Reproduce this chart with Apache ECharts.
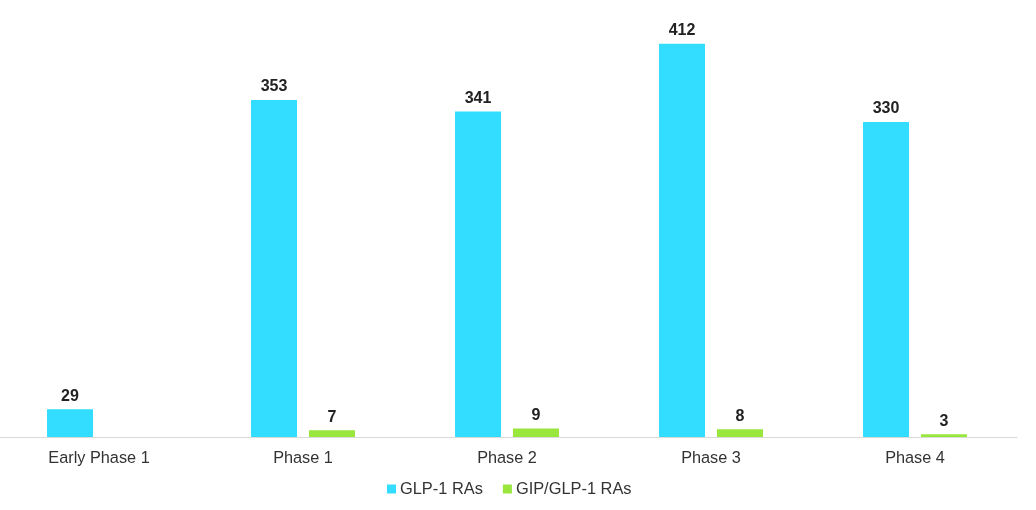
<!DOCTYPE html>
<html><head><meta charset="utf-8">
<script src="https://cdn.jsdelivr.net/npm/echarts@6/dist/echarts.min.js"></script>
<style>html,body{margin:0;padding:0;background:#fff;overflow:hidden}#c{width:1039px;height:510px;margin-left:-3px}</style>
</head><body><div id="c"></div>
<script>
var categories = ['Early Phase 1', 'Phase 1', 'Phase 2', 'Phase 3', 'Phase 4'];
var glp1 = [29, 353, 341, 412, 330];
var gipGlp1 = [null, 7, 9, 8, 3];
var seriesNames = ['GLP-1 RAs', 'GIP/GLP-1 RAs'];

var chart = echarts.init(document.getElementById('c'));
var lbl = {show: true, position: 'top', distance: 5, fontFamily: 'Liberation Sans, Arial, sans-serif', fontWeight: 'bold', fontSize: 16, color: '#222'};
chart.setOption({
  animation: false,
  grid: {left: 0, right: 19, top: 17, bottom: 73, containLabel: false},
  legend: {bottom: 8, left: 385, itemWidth: 9, itemHeight: 9, itemGap: 20, icon: 'rect',
    textStyle: {fontFamily: 'Liberation Sans, Arial, sans-serif', fontSize: 16.4, color: '#333', padding: [0, 0, 0, -1]},
    data: seriesNames},
  xAxis: {type: 'category', data: categories,
    axisLine: {lineStyle: {color: '#d9d9d9'}}, axisTick: {show: false},
    axisLabel: {margin: 14, fontFamily: 'Liberation Sans, Arial, sans-serif', fontSize: 16.3, color: '#333'}},
  yAxis: {type: 'value', min: 0, max: 440, show: false, splitLine: {show: false}},
  series: [
    {name: seriesNames[0], type: 'bar', data: glp1, barWidth: 46, barGap: '26%', itemStyle: {color: '#33DDFF'}, label: lbl},
    {name: seriesNames[1], type: 'bar', data: gipGlp1, barWidth: 46, barGap: '26%', itemStyle: {color: '#99E63D'}, label: lbl}
  ]
});
</script></body></html>
